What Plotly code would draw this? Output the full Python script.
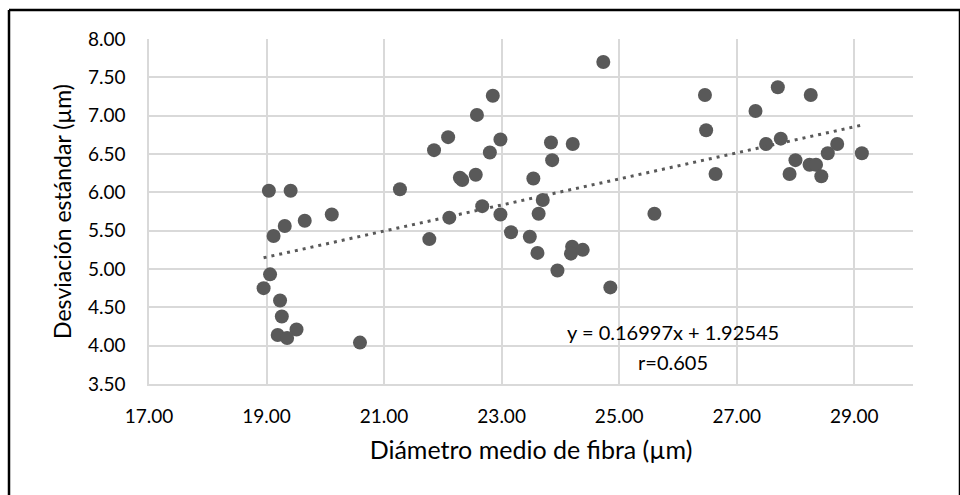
import plotly.graph_objects as go

diametro = [19.04, 19.41, 20.11, 19.65, 19.31, 19.12, 19.06, 18.95, 19.23, 19.26, 19.51, 19.19, 19.35, 20.59,
            21.27, 21.77, 21.85, 22.09, 22.11, 22.29, 22.33, 22.56, 22.58, 22.67, 22.80, 22.85, 22.98, 22.98,
            23.16, 23.48, 23.54, 23.61, 23.63, 23.70, 23.84, 23.86, 23.95, 24.21, 24.20, 24.18, 24.38, 24.85,
            24.73, 25.60, 26.46, 26.48, 26.64, 27.32, 27.50, 27.70, 27.75, 27.90, 28.00, 28.26, 28.24, 28.35,
            28.44, 28.55, 28.71, 29.13]
desviacion = [6.02, 6.02, 5.71, 5.63, 5.56, 5.43, 4.93, 4.75, 4.59, 4.38, 4.21, 4.14, 4.10, 4.04,
              6.04, 5.39, 6.55, 6.72, 5.67, 6.19, 6.16, 6.23, 7.01, 5.82, 6.52, 7.26, 6.69, 5.71,
              5.48, 5.42, 6.18, 5.21, 5.72, 5.90, 6.65, 6.42, 4.98, 6.63, 5.29, 5.20, 5.25, 4.76,
              7.70, 5.72, 7.27, 6.81, 6.24, 7.06, 6.63, 7.37, 6.70, 6.24, 6.42, 7.27, 6.36, 6.36,
              6.21, 6.51, 6.63, 6.51]

pendiente = 0.16997
intercepto = 1.92545
texto_ecuacion = "y = 0.16997x + 1.92545"
texto_r = "r=0.605"

trend_x = [min(diametro), max(diametro)]
trend_y = [pendiente * v + intercepto for v in trend_x]

FONT = "Lato"
GRAY = "#595959"
GRID = "#d9d9d9"

fig = go.Figure()
fig.add_trace(go.Scatter(x=diametro, y=desviacion, mode="markers",
                         marker=dict(size=14, color=GRAY, line=dict(width=0)),
                         showlegend=False, hoverinfo="x+y"))
fig.add_trace(go.Scatter(x=trend_x, y=trend_y, mode="lines",
                         line=dict(color=GRAY, width=3, dash="3px,5px"),
                         showlegend=False, hoverinfo="skip"))

L, R, T, B = 149, 47, 39, 111
W, H = 960, 495
pw, ph = W - L - R, H - T - B

def px(xp):
    return (xp - L) / pw

def py(yp):
    return (H - B - yp) / ph

border = dict(color="black", width=2.5)
fig.add_shape(type="line", xref="paper", yref="paper",
              x0=px(9), x1=px(9), y0=py(500), y1=py(10), line=border, layer="below")
fig.add_shape(type="line", xref="paper", yref="paper",
              x0=px(9), x1=px(965), y0=py(10), y1=py(10), line=border, layer="below")
fig.add_shape(type="line", xref="paper", yref="paper",
              x0=px(960), x1=px(960), y0=py(500), y1=py(10), line=border, layer="below")

fig.add_annotation(x=25.92, y=4.18, xref="x", yref="y", text=texto_ecuacion, showarrow=False,
                   font=dict(family=FONT, size=20, color="black"))
fig.add_annotation(x=25.92, y=3.79, xref="x", yref="y", text=texto_r, showarrow=False,
                   font=dict(family=FONT, size=20, color="black"))

fig.update_layout(
    width=W, height=H,
    margin=dict(l=L, r=R, t=T, b=B, pad=0),
    paper_bgcolor="white", plot_bgcolor="white",
    font=dict(family=FONT, color="black"),
    xaxis=dict(range=[17, 30], tick0=17, dtick=2, tickformat=".2f",
               showgrid=True, gridcolor=GRID, gridwidth=1.5,
               showline=True, linecolor=GRID, linewidth=1.5,
               zeroline=False, ticks="", ticklabelstandoff=14,
               tickfont=dict(family=FONT, size=19, color="black"),
               title=dict(text="Diámetro medio de fibra (µm)", standoff=16,
                          font=dict(family=FONT, size=25, color="black"))),
    yaxis=dict(range=[3.5, 8], tick0=3.5, dtick=0.5, tickformat=".2f",
               showgrid=True, gridcolor=GRID, gridwidth=1.5,
               showline=True, linecolor=GRID, linewidth=1.5,
               zeroline=False, ticks="", ticklabelstandoff=18,
               tickfont=dict(family=FONT, size=19, color="black"),
               title=dict(text="Desviación estándar (µm)", standoff=10,
                          font=dict(family=FONT, size=23, color="black"))),
)

fig.write_html("out.html")
